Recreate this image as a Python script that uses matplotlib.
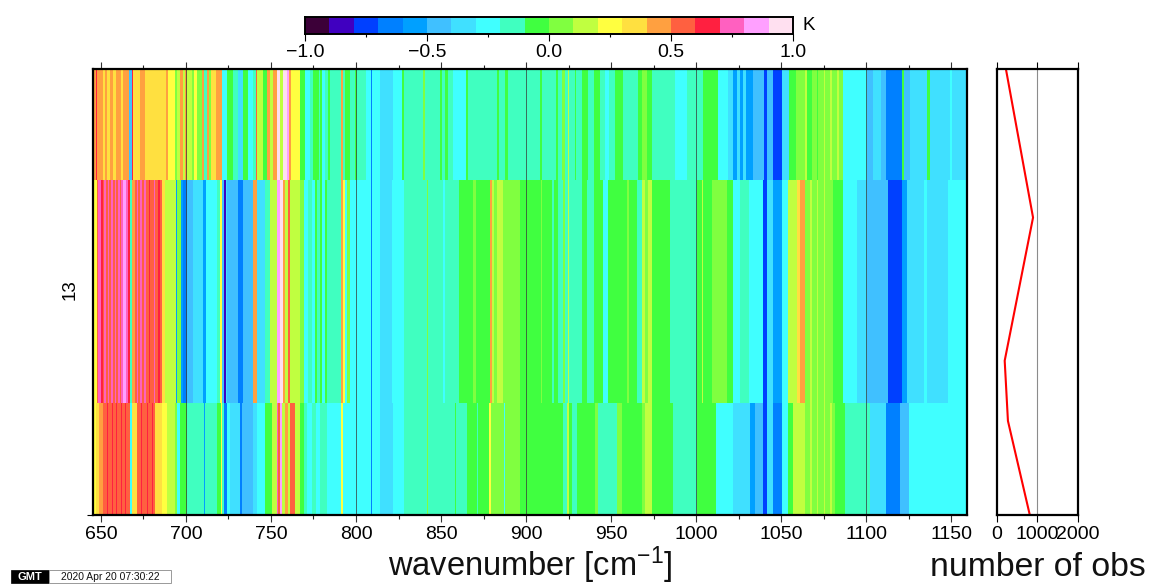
import matplotlib
matplotlib.use("Agg")
import matplotlib.pyplot as plt
from matplotlib.colors import ListedColormap, BoundaryNorm
from matplotlib.patches import Rectangle
import numpy as np

plt.rcParams['font.family'] = ['Liberation Sans', 'DejaVu Sans']
plt.rcParams['mathtext.fontset'] = 'custom'
plt.rcParams['mathtext.rm'] = 'Liberation Sans'
plt.rcParams['mathtext.default'] = 'regular'

W, H = 1153, 585
level_colors = ['#3c0038', '#4000c0', '#0040ff', '#0080ff', '#00a0ff', '#40c0ff', '#40e0ff',
                '#40ffff', '#40ffc0', '#40ff40', '#80ff40', '#c0ff40', '#ffff40', '#ffe040',
                '#ffa040', '#ff6040', '#ff2040', '#ff60c0', '#ffa0ff', '#ffe0f0']
level_bounds = np.round(np.linspace(-1, 1, 21), 2)
wn_end = 1159.4

# (band start wavenumber, bias in K) for each of the three layers
top_bands = [
    (645.3,.45),(646.8,.65),(647.8,.45),(651.3,.35),(652.3,.45),(653.7,.35),(655.3,.45),(657.2,.35),
    (658.8,.45),(661.5,.35),(663.1,.45),(666.6,-.45),(668,.65),(669,.35),(673,.45),(675.9,.35),
    (688.2,.45),(689.6,.25),(693.5,.05),(694.9,.15),(696.4,.45),(698,.15),(699.4,.45),(700.4,.15),
    (703.3,.05),(704.7,.25),(706.6,.05),(709.2,.45),(710.6,-.15),(712.1,.45),(713.7,.05),(715,.35),
    (717.6,.45),(721,-.25),(724,-.05),(727.8,-.15),(730.8,-.35),(733.7,-.05),(736.6,-.25),(739.6,-.15),
    (741,.55),(742,.15),(745.5,-.05),(747.8,.45),(749.5,.15),(751,.45),(753.3,.95),(755.3,.15),
    (756.8,.95),(759.2,.85),(760.5,.45),(762,.25),(766,.25),(767,-.05),(770,-.25),(773,-.15),
    (775,-.05),(778,-.15),(779,-.05),(780,-.25),(781.5,-.15),(783.7,-.05),(784.7,-.15),(791.2,.45),
    (792.5,-.15),(793.5,-.05),(796.5,-.15),(799.5,-.05),(800.8,-.15),(806,-.25),(808.6,-.65),(809.4,-.25),
    (814,-.35),(822,-.25),(826.9,-.05),(828,-.15),(839.6,.05),(840.8,-.15),(849.4,-.05),(850.3,-.15),
    (852.3,-.05),(854,-.15),(857,-.25),(864.7,-.05),(866,-.15),(882.7,-.05),(884,-.15),(887.6,-.05),
    (889.6,-.15),(908.3,-.05),(909.6,-.15),(917.7,-.05),(918.9,-.15),(921.4,.05),(923,-.15),(924.5,.15),
    (925.5,-.15),(928.9,-.05),(929.4,-.15),(933,-.05),(936.7,-.15),(940,-.05),(943.6,-.15),(946.5,-.3),
    (949,-.15),(952.4,-.05),(957.3,-.15),(965.7,-.05),(968,.05),(971,-.05),(974,-.15),(987.7,-.25),
    (994.5,-.15),(1004,-.05),(1010,-.05),(1013,-.25),(1019,-.35),(1022,-.55),(1024,-.35),(1026,-.55),
    (1027.8,-.35),(1029.2,-.55),(1033.7,-.45),(1040,-.75),(1042,-.45),(1045.5,-.75),(1050.4,-.35),
    (1054.9,-.05),(1059,.05),(1064,.15),(1065,-.05),(1068,.05),(1071,-.05),(1072,.05),(1075,.15),
    (1076,.05),(1079,.15),(1080,.05),(1083,.15),(1084,.05),(1086.7,-.25),(1100.4,-.45),(1104.3,-.35),
    (1109,-.45),(1112,-.65),(1116,-.7),(1121,-.05),(1122.4,-.45),(1126,-.35),(1135.7,-.05),(1137.6,-.35),
    (1149.4,-.25),(1150.4,-.35),
]
mid_bands = [
    (645.3,.25),(647.4,.55),(648.5,.75),(650,.65),(651,.55),(652,.75),(653,.55),(654,.75),(655,.55),
    (656,.75),(657,.55),(658,.75),(659,.55),(660,.75),(661,.55),(662,.75),
    (663,.85),(665,.75),(666,.65),(667,-.15),(668,.45),(670,.55),(671,.75),(672,.55),(673,.75),(674,.55),
    (675.5,.75),(676.5,.55),(678,.65),(679,.55),(681,.75),(682,.55),(683.5,.65),(684.5,.55),
    (685.7,.35),(687.6,.15),(694,-.6),(695,.05),(696.8,-.55),(698.4,-.65),(700.4,-.45),(704.3,-.35),
    (710,-.6),(712,-.3),(718,-.15),(720,.25),(721,-.45),(722.5,-.85),(723.5,-.35),(724.3,-.5),
    (730.8,-.7),(733.7,-.5),(739.6,.45),(741.5,-.35),(746.4,-.15),(749.4,.15),(753.3,.85),(755.3,.95),
    (757,.45),(758.5,.15),(760,.55),(761,.15),(767,.05),(769.5,-.25),(772,-.15),(774,-.25),(776,-.05),(777,-.15),(779,-.05),
    (780,-.25),(782,-.05),(783,-.15),(791,.45),(792.5,.25),(793.5,-.25),(795,.05),(796.5,-.25),
    (808.6,-.65),(809.4,-.3),(814,-.35),(821,-.25),(828,-.15),(841.6,.05),(842.6,-.15),(851.4,-.25),
    (852.3,-.15),(860.8,-.05),(869,.05),(870.4,-.05),(878.8,.45),(880,.15),(881,.05),(883,.15),
    (886.7,.05),(896.5,-.05),(908.7,.05),(909.6,-.05),(915.5,-.15),(916.5,-.05),(919,-.15),(921.5,.05),
    (923,-.15),(924.5,.15),(925.5,-.15),(932.8,-.05),(936,-.15),(940,-.05),(945.5,-.25),(948.5,-.05),
    (959.2,.05),(960.8,-.05),(965,-.15),(968,.15),(970,.05),(972,.15),(974,-.05),(984.7,-.15),
    (1000.4,-.05),(1003.4,.15),(1004.4,-.05),(1009.2,.05),(1018,-.05),(1022,-.25),(1026,-.15),(1031,-.3),
    (1039.6,-.75),(1041.6,-.35),(1045.5,-.55),(1050.4,-.3),(1054.3,.15),(1059.2,.35),(1061.2,.45),
    (1064,.05),(1067,.15),(1068,.05),(1071,.15),(1072,.05),(1075,.15),(1076,.05),(1080.8,-.05),(1086.7,-.25),(1094.5,-.35),
    (1100.4,-.45),(1113,-.75),(1121,-.55),(1124,-.35),(1134,-.25),(1136,-.35),(1148,-.3),
]
low_bands = [
    (645.3,.25),(647,.35),(649,.45),(651,.55),(653.5,.65),(654.2,.55),(656.5,.65),(657.2,.55),(659,.65),(659.7,.55),
    (661.5,.65),(662.2,.55),(664,.65),(665,.55),(667,-.25),
    (668,.35),(671,.55),(673.5,.65),(674.2,.55),(677,.65),(677.7,.55),(680,.65),(680.7,.55),(682,.35),(685.7,.25),(688.6,.15),
    (693.5,.05),(695,-.25),(696.4,-.05),(700.4,-.15),(710.6,-.55),(711.4,-.15),(718,-.05),(720.4,.25),
    (721,-.15),(722.5,-.65),(724,-.25),(726,-.4),(731.7,-.65),(733,-.45),(739.6,-.35),(741.5,-.25),
    (746.4,-.05),(750.4,.15),(753.3,.75),(754.3,.55),(755.3,.85),(756.5,.15),(758,.45),(760,.15),(761,.55),(763,.5),(764,.15),(767,-.05),
    (769.5,-.15),(771,-.25),(774,-.15),(776.5,-.25),(779,-.15),(783,-.25),(791,.25),(792.5,-.3),
    (808.6,-.65),(809.4,-.3),(814,-.35),(821.6,-.25),(828,-.15),(841.6,.05),(842.4,-.15),(858.2,-.05),
    (859,-.15),(865,-.05),(871,-.15),(872,-.05),(878.4,.25),(879.6,.05),(887,-.25),(887.8,.05),
    (896.5,-.05),(922,-.15),(924,.15),(925.5,-.05),(927,-.15),(930,-.05),(940.6,.05),(942.6,-.2),
    (948.5,-.15),(953.4,.05),(956.3,-.05),(968,.05),(970,.15),(974,-.05),(986.7,-.15),(1000.4,-.05),
    (1012,-.25),(1022,-.35),(1031.8,-.55),(1034.7,-.45),(1039.6,-.75),(1041.6,-.35),(1045.5,-.65),
    (1050.4,-.3),(1054.3,-.05),(1057.3,.15),(1064,.05),(1067,.15),(1068,.05),(1071,.15),(1072,.05),
    (1075,.15),(1076,.05),(1079,.15),(1080,.05),(1081.8,-.05),(1087.6,-.15),(1102.4,-.35),(1112,-.65),(1120,-.45),(1125,-.25),
]

row_edges = [0.0, 0.251, 0.751, 1.0]
rows = [low_bands, mid_bands, top_bands]

obs_level = [1.0, 0.667, 0.346, 0.211, 0.0]
obs_count = [220, 890, 190, 270, 810]

wn_major = [650, 700, 750, 800, 850, 900, 950, 1000, 1050, 1100, 1150]
wn_minor = [675, 725, 775, 825, 875, 925, 975, 1025, 1075, 1125]
wn_grid = [700, 800, 900, 1000, 1100]
cb_major = [-1.0, -0.5, 0.0, 0.5, 1.0]
cb_minor = [-0.75, -0.25, 0.25, 0.75]
obs_ticks = [0, 1000, 2000]

cmap = ListedColormap(level_colors)
norm = BoundaryNorm(level_bounds, cmap.N)


def box(x0, y0, x1, y1):
    return [x0 / W, 1 - y1 / H, (x1 - x0) / W, (y1 - y0) / H]


fig = plt.figure(figsize=(W / 100, H / 100), dpi=100)

# main heat map
ax = fig.add_axes(box(93, 69, 967, 515))
for i, bands in enumerate(rows):
    wn = [b[0] for b in bands] + [wn_end]
    val = [b[1] for b in bands]
    ax.pcolormesh(wn, row_edges[i:i + 2], [val], cmap=cmap, norm=norm,
                  shading='flat', antialiased=False, linewidth=0)
for g in wn_grid:
    ax.axvline(g, color='#3a3a3a', lw=0.7, alpha=0.75, zorder=3)
ax.set_xlim(645.3, wn_end)
ax.set_ylim(0, 1)
ax.set_xticks(wn_major)
ax.set_xticks(wn_minor, minor=True)
ax.tick_params(axis='x', which='major', top=True, bottom=True, length=5.2, width=0.8, labelsize=14,
               pad=2.5, color='#333333')
ax.tick_params(axis='x', which='minor', top=True, bottom=True, length=2.8, width=0.8, color='#222222')
ax.set_yticks([0])
ax.set_yticklabels([''])
ax.tick_params(axis='y', length=4.5, width=0.8)
for s in ax.spines.values():
    s.set_linewidth(1.6)
    s.set_zorder(5)
fig.text(70 / W, 1 - 290 / H, '13', rotation=90, fontsize=13.5, ha='center', va='center')
fig.text(530.5 / W, 1 - 576 / H, 'wavenumber [cm$^{-1}$]', fontsize=23.5, ha='center', va='baseline',
         color='#111111')

# observation count panel
ax2 = fig.add_axes(box(997, 69, 1078, 515))
ax2.axvline(1000, color='#8c8c8c', lw=0.8)
ax2.plot(obs_count, obs_level, color='#ff0000', lw=1.5, solid_joinstyle='miter')
ax2.set_xlim(0, 2000)
ax2.set_ylim(0, 1)
ax2.set_xticks(obs_ticks)
ax2.tick_params(axis='x', top=True, bottom=True, length=5.2, width=0.8, labelsize=14, pad=2.5)
ax2.set_yticks([])
for s in ax2.spines.values():
    s.set_linewidth(1.6)
fig.text(1038 / W, 1 - 576 / H, 'number of obs', fontsize=24.3, ha='center', va='baseline',
         color='#111111')

# colour bar
cax = fig.add_axes(box(305, 17, 793, 34))
cax.pcolormesh(level_bounds, [0, 1], [np.round((level_bounds[:-1] + level_bounds[1:]) / 2, 3)],
               cmap=cmap, norm=norm, shading='flat', antialiased=False, linewidth=0)
cax.set_xlim(-1, 1)
cax.set_ylim(0, 1)
cax.set_yticks([])
cax.set_xticks(cb_major)
cax.set_xticklabels(['\u22121.0', '\u22120.5', '0.0', '0.5', '1.0'])
cax.set_xticks(cb_minor, minor=True)
cax.tick_params(axis='x', which='major', length=5, width=0.8, labelsize=14, pad=2.5)
cax.tick_params(axis='x', which='minor', length=2.5, width=0.8)
for s in cax.spines.values():
    s.set_linewidth(1.4)
fig.text(809 / W, 1 - 26 / H, 'K', fontsize=13.5, ha='center', va='center')

# time stamp
fig.add_artist(Rectangle((11 / W, 1 - 583 / H), 38 / W, 13 / H, transform=fig.transFigure,
                         facecolor='black', edgecolor='black', lw=0.5))
fig.add_artist(Rectangle((49 / W, 1 - 583 / H), 122 / W, 13 / H, transform=fig.transFigure,
                         facecolor='white', edgecolor='#999999', lw=0.7))
fig.text(30 / W, 1 - 576.5 / H, 'GMT', color='white', fontsize=8, fontweight='bold',
         ha='center', va='center')
fig.text(110 / W, 1 - 576.5 / H, '2020 Apr 20 07:30:22', color='#111111', fontsize=7.4,
         ha='center', va='center')

fig.savefig('out.png', dpi=100)
